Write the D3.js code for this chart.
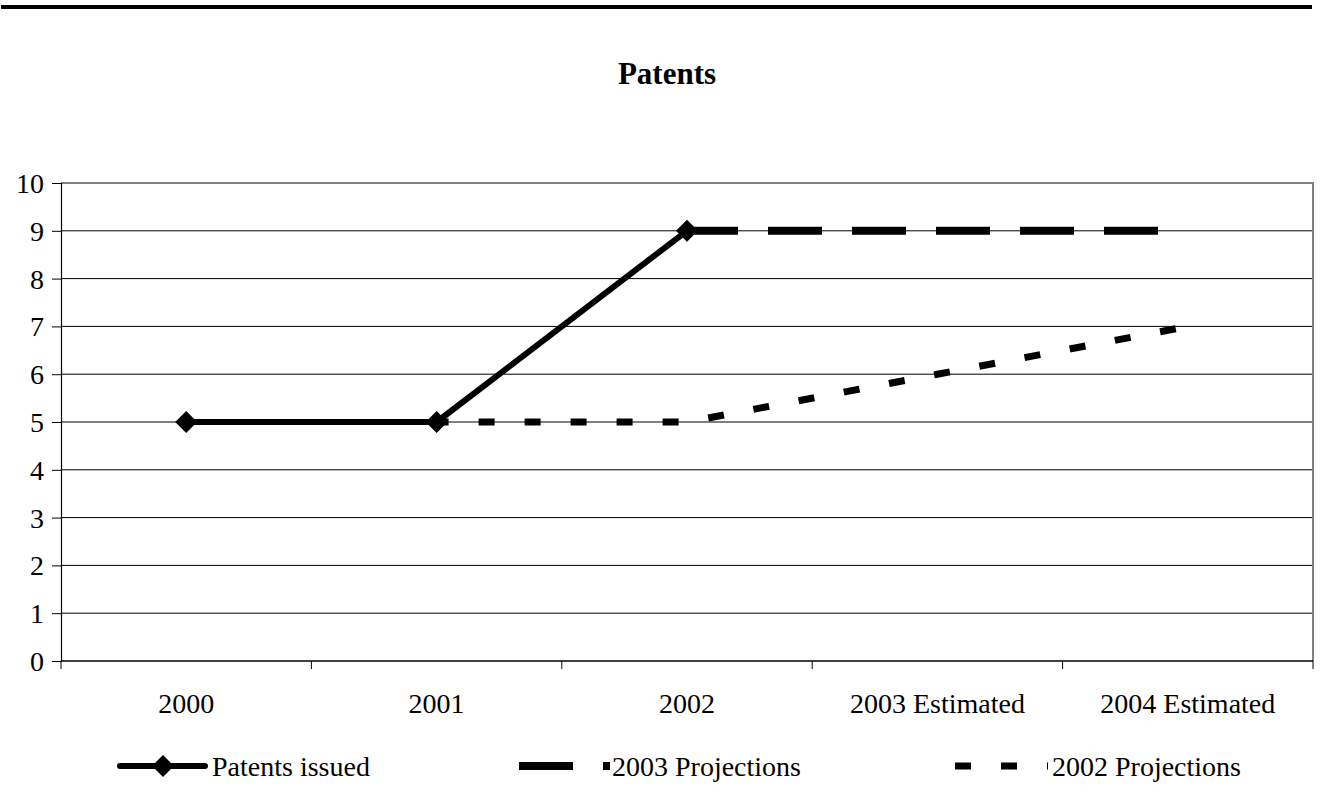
<!DOCTYPE html>
<html>
<head>
<meta charset="utf-8">
<script src="https://cdn.jsdelivr.net/npm/d3@7/dist/d3.min.js"></script>
<style>
  html, body { margin: 0; padding: 0; background: #fff; }
  svg { display: block; font-family: "Liberation Serif", "Times New Roman", serif; }
</style>
</head>
<body>
<svg id="chart" width="1320" height="792"></svg>
<script>
// Chart data
const categories = ["2000", "2001", "2002", "2003 Estimated", "2004 Estimated"];
const patentsIssued = [5, 5, 9, null, null];
const projections2003 = [null, null, 9, 9, 9];
const projections2002 = [null, 5, 5, 6, 7];
const yTicks = [0, 1, 2, 3, 4, 5, 6, 7, 8, 9, 10];
const seriesNames = ["Patents issued", "2003 Projections", "2002 Projections"];

const svg = d3.select("#chart");
const plot = { left: 61, right: 1313, top: 183, bottom: 661 };
const labelSize = 28;

// Rule across the top of the page
svg.append("rect").attr("x", 1).attr("y", 5).attr("width", 1311).attr("height", 4).attr("fill", "#000");

// Title
svg.append("text")
  .attr("x", 667).attr("y", 84)
  .attr("text-anchor", "middle")
  .attr("font-size", 31).attr("font-weight", "bold")
  .text("Patents");

const x = d3.scaleBand().domain(categories).range([plot.left, plot.right]);
const y = d3.scaleLinear().domain([0, 10]).range([plot.bottom, plot.top]);
const cx = c => x(c) + x.bandwidth() / 2;

// Horizontal gridlines
svg.append("g").selectAll("line")
  .data(yTicks.filter(t => t > 0 && t < 10))
  .join("line")
  .attr("x1", plot.left).attr("x2", plot.right)
  .attr("y1", d => y(d)).attr("y2", d => y(d))
  .attr("stroke", "#000").attr("stroke-width", 1);

// Plot area frame (top and right edges)
svg.append("path")
  .attr("d", `M${plot.left},${plot.top}H${plot.right}V${plot.bottom}`)
  .attr("fill", "none").attr("stroke", "#808080").attr("stroke-width", 2);

// Y axis
const yAxis = svg.append("g")
  .attr("transform", `translate(${plot.left},0)`)
  .call(d3.axisLeft(y).tickValues(yTicks).tickSize(9).tickPadding(8).tickFormat(d3.format("d")));
yAxis.attr("font-size", null).attr("font-family", null);
yAxis.select(".domain").attr("stroke", "#000").attr("stroke-width", 1.2);
yAxis.selectAll(".tick line").attr("stroke", "#000");
yAxis.selectAll("text")
  .attr("font-size", labelSize).attr("fill", "#000").attr("dy", "0.34em");

// X axis
const tickEdges = categories.map(c => x(c)).concat([plot.right]);
const xAxis = svg.append("g").attr("transform", `translate(0,${plot.bottom})`);
xAxis.append("line").attr("x1", plot.left).attr("x2", plot.right)
  .attr("stroke", "#000").attr("stroke-width", 1.5);
xAxis.selectAll("line.tk").data(tickEdges).join("line").attr("class", "tk")
  .attr("x1", d => d).attr("x2", d => d).attr("y1", 0).attr("y2", 8)
  .attr("stroke", "#000");
xAxis.selectAll("text").data(categories).join("text")
  .attr("x", d => cx(d)).attr("y", 52)
  .attr("text-anchor", "middle").attr("font-size", labelSize)
  .text(d => d);

// Series lines
const line = d3.line()
  .defined(d => d.v !== null)
  .x(d => cx(d.c)).y(d => y(d.v));
const pts = arr => categories.map((c, i) => ({ c, v: arr[i] }));

svg.append("path").datum(pts(projections2002))
  .attr("d", line).attr("fill", "none").attr("stroke", "#000")
  .attr("stroke-width", 7).attr("stroke-dasharray", "16,30").attr("stroke-dashoffset", 4);

svg.append("path").datum(pts(projections2003))
  .attr("d", line).attr("fill", "none").attr("stroke", "#000")
  .attr("stroke-width", 8).attr("stroke-dasharray", "54,30").attr("stroke-dashoffset", 3);

svg.append("path").datum(pts(patentsIssued))
  .attr("d", line).attr("fill", "none").attr("stroke", "#000")
  .attr("stroke-width", 6).attr("stroke-linejoin", "round");

// Diamond markers
const diamond = (px, py, r) => `M${px},${py - r}L${px + r},${py}L${px},${py + r}L${px - r},${py}Z`;
svg.append("g").selectAll("path")
  .data(pts(patentsIssued).filter(d => d.v !== null))
  .join("path")
  .attr("d", d => diamond(cx(d.c), y(d.v), 11))
  .attr("fill", "#000");

// Legend
const ly = 766;
const lg = svg.append("g").attr("font-size", labelSize);
lg.append("line").attr("x1", 120).attr("x2", 205).attr("y1", ly).attr("y2", ly)
  .attr("stroke", "#000").attr("stroke-width", 6).attr("stroke-linecap", "round");
lg.append("path").attr("d", diamond(163, ly, 11)).attr("fill", "#000");
lg.append("text").attr("x", 212).attr("y", ly + 10).text(seriesNames[0]);

lg.append("line").attr("x1", 519).attr("x2", 610).attr("y1", ly).attr("y2", ly)
  .attr("stroke", "#000").attr("stroke-width", 8).attr("stroke-dasharray", "54,30");
lg.append("text").attr("x", 612).attr("y", ly + 10).text(seriesNames[1]);

lg.append("line").attr("x1", 955).attr("x2", 1048).attr("y1", ly).attr("y2", ly)
  .attr("stroke", "#000").attr("stroke-width", 7).attr("stroke-dasharray", "16,30");
lg.append("text").attr("x", 1052).attr("y", ly + 10).text(seriesNames[2]);
</script>
</body>
</html>
